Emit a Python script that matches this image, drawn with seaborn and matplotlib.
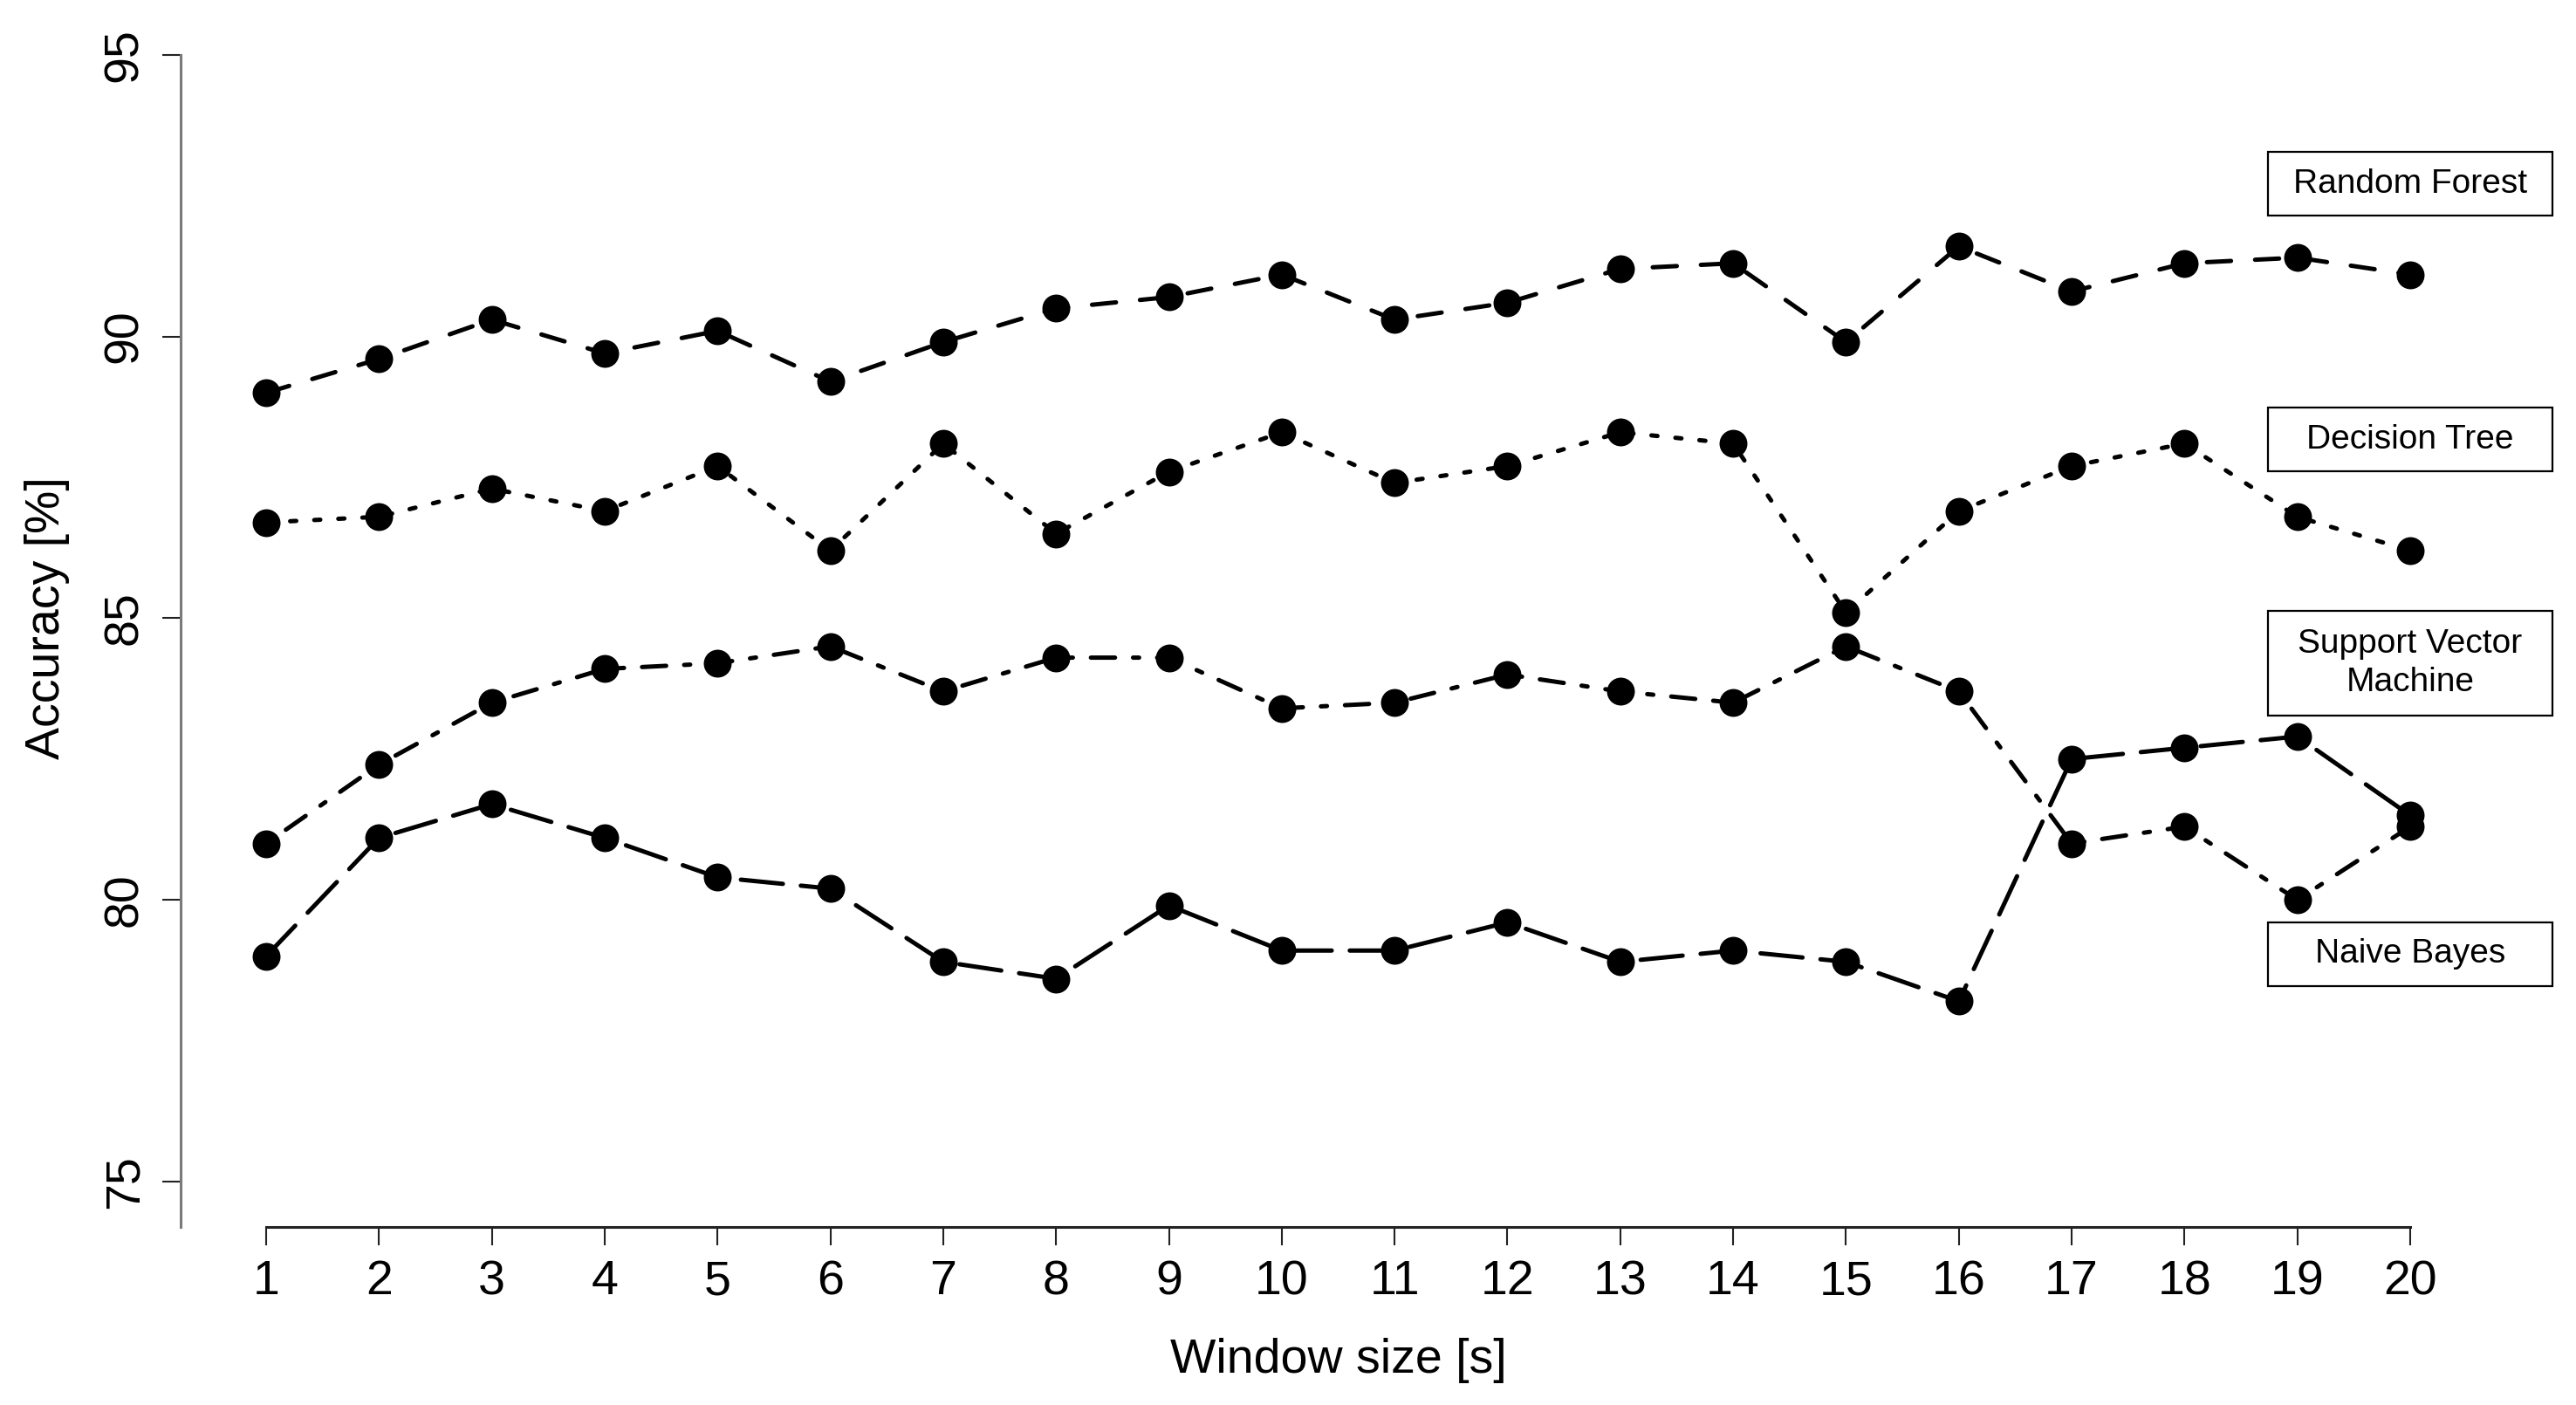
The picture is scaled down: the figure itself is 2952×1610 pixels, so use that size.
import matplotlib
matplotlib.use("Agg")
import matplotlib.pyplot as plt
import seaborn as sns
import pandas as pd
from matplotlib.patches import Rectangle

# ---------------- data ----------------
window_size = list(range(1, 21))
random_forest = [89.0, 89.6, 90.3, 89.7, 90.1, 89.2, 89.9, 90.5, 90.7, 91.1,
                 90.3, 90.6, 91.2, 91.3, 89.9, 91.6, 90.8, 91.3, 91.4, 91.1]
decision_tree = [86.7, 86.8, 87.3, 86.9, 87.7, 86.2, 88.1, 86.5, 87.6, 88.3,
                 87.4, 87.7, 88.3, 88.1, 85.1, 86.9, 87.7, 88.1, 86.8, 86.2]
support_vector = [81.0, 82.4, 83.5, 84.1, 84.2, 84.5, 83.7, 84.3, 84.3, 83.4,
                  83.5, 84.0, 83.7, 83.5, 84.5, 83.7, 81.0, 81.3, 80.0, 81.3]
naive_bayes = [79.0, 81.1, 81.7, 81.1, 80.4, 80.2, 78.9, 78.6, 79.9, 79.1,
               79.1, 79.6, 78.9, 79.1, 78.9, 78.2, 82.5, 82.7, 82.9, 81.5]
series_names = ["Random Forest", "Decision Tree", "Support Vector\nMachine", "Naive Bayes"]
y_ticks = [75, 80, 85, 90, 95]
x_label = "Window size [s]"
y_label = "Accuracy [%]"

# ---------------- style ----------------
sns.set_style("ticks")
plt.rcParams["font.family"] = ["Liberation Sans", "DejaVu Sans"]
plt.rcParams["lines.scale_dashes"] = False
plt.rcParams["text.color"] = "black"
plt.rcParams["axes.labelcolor"] = "black"
plt.rcParams["xtick.color"] = "black"
plt.rcParams["ytick.color"] = "black"

fig = plt.figure(figsize=(29.52, 16.10), dpi=100)
ax = fig.add_axes([0.07002, 0.12696, 0.8989, 0.8661])

u = 4.97  # dash unit in points
line_styles = [
    (0, (4 * u, 4 * u)),                 # dashed
    (0, (1 * u, 3 * u)),                 # dotted
    (0, (1 * u, 3 * u, 4 * u, 3 * u)),   # dot-dash
    (0, (7 * u, 3 * u)),                 # long dash
]
all_values = [random_forest, decision_tree, support_vector, naive_bayes]

for vals, ls in zip(all_values, line_styles):
    df = pd.DataFrame({"x": window_size, "y": vals})
    sns.lineplot(data=df, x="x", y="y", ax=ax, color="black", linewidth=3.6,
                 linestyle=ls, dash_capstyle="round", marker="o",
                 markersize=23, markeredgewidth=0, markerfacecolor="black")

ax.set_xlim(0.24, 20.76)
ax.set_ylim(74.2, 95.8)
ax.set_xticks(window_size)
ax.set_xticklabels([str(v) for v in window_size])
ax.set_yticks(y_ticks)
ax.set_yticklabels([str(v) for v in y_ticks], rotation=90, va="center")

for s in ["top", "right"]:
    ax.spines[s].set_visible(False)
ax.spines["left"].set_bounds(74.2, 95)
ax.spines["bottom"].set_bounds(1, 20)
ax.spines["left"].set_color("#7a7a7a")
ax.spines["bottom"].set_color("#222222")
ax.spines["left"].set_linewidth(2.2)
ax.spines["bottom"].set_linewidth(2.2)

ax.tick_params(axis="x", length=15, width=1.5, color="#222222", labelcolor="black",
               labelsize=40, pad=12)
ax.tick_params(axis="y", length=15, width=1.5, color="#222222", labelcolor="black",
               labelsize=40, pad=12)

ax.set_xlabel(x_label, fontsize=40, va="center", color="black")
ax.xaxis.set_label_coords(0.5, -0.110)
ax.set_ylabel(y_label, fontsize=40, va="center", color="black")
ax.yaxis.set_label_coords(-0.0575, 0.5)

# ---------------- label boxes ----------------
label_x = 20
label_y = [92.71, 88.17, 84.2, 79.04]
box_h = [1.13, 1.13, 1.87, 1.13]
box_w = 2.52
for name, yy, hh in zip(series_names, label_y, box_h):
    ax.add_patch(Rectangle((label_x - box_w / 2, yy - hh / 2), box_w, hh,
                           facecolor="white", edgecolor="black", linewidth=1.6,
                           clip_on=False, zorder=5))
    ax.text(label_x, yy, name, ha="center", va="center", fontsize=28,
            linespacing=1.3, zorder=6, clip_on=False, color="black")

fig.savefig("out.png", dpi=100)
